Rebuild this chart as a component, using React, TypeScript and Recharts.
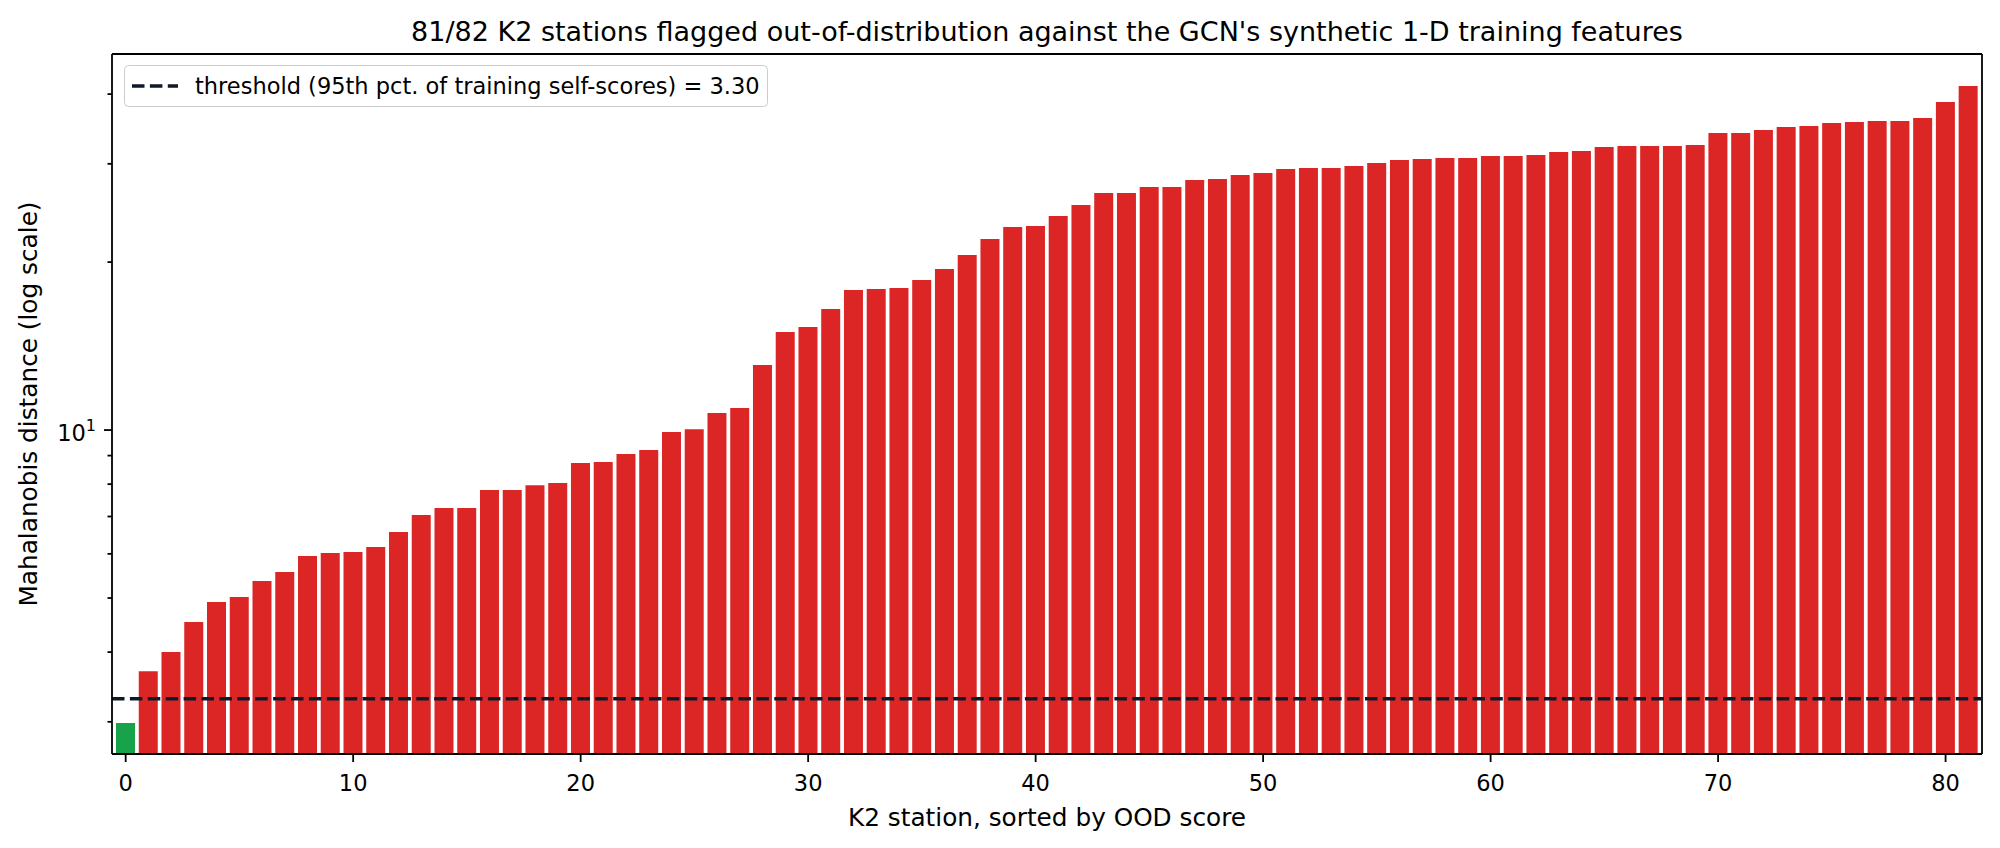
import React from 'react';
import { BarChart, Bar, Cell, XAxis, YAxis, ReferenceLine, Legend, CartesianGrid } from 'recharts';

// station rank (x) and Mahalanobis OOD score (y), sorted ascending
const stations = [
  0, 1, 2, 3, 4, 5, 6, 7, 8, 9, 10, 11, 12, 13, 14, 15, 16, 17, 18, 19, 20,
  21, 22, 23, 24, 25, 26, 27, 28, 29, 30, 31, 32, 33, 34, 35, 36, 37, 38, 39, 40,
  41, 42, 43, 44, 45, 46, 47, 48, 49, 50, 51, 52, 53, 54, 55, 56, 57, 58, 59, 60,
  61, 62, 63, 64, 65, 66, 67, 68, 69, 70, 71, 72, 73, 74, 75, 76, 77, 78, 79, 80, 81,
];
const oodScores = [
  2.985, 3.698, 4.0, 4.528, 4.918, 5.019, 5.362, 5.566, 5.946, 6.021,
  6.045, 6.17, 6.565, 7.04, 7.25, 7.25, 7.805, 7.805, 7.967, 8.035,
  8.727, 8.765, 9.057, 9.21, 9.92, 10.03, 10.73, 10.95, 13.08, 14.98,
  15.3, 16.48, 17.82, 17.89, 17.97, 18.57, 19.44, 20.59, 22.0, 23.11,
  23.21, 24.19, 25.31, 26.6, 26.6, 27.26, 27.26, 28.06, 28.18, 28.65,
  28.89, 29.37, 29.49, 29.49, 29.74, 30.1, 30.48, 30.6, 30.73, 30.73,
  30.98, 30.98, 31.11, 31.5, 31.63, 32.16, 32.29, 32.29, 32.29, 32.42,
  34.07, 34.07, 34.5, 34.93, 35.07, 35.51, 35.66, 35.8, 35.8, 36.25,
  38.72, 41.37,
];
const THRESHOLD = 3.3;
const yDomain = [2.627, 47.2];
const yTicks = [3, 4, 5, 6, 7, 8, 9, 10, 20, 30, 40];
const yMajorTicks = [10];

const TITLE =
  "81/82 K2 stations flagged out-of-distribution against the GCN's synthetic 1-D training features";
const X_LABEL = 'K2 station, sorted by OOD score';
const Y_LABEL = 'Mahalanobis distance (log scale)';
const LEGEND_LABEL = 'threshold (95th pct. of training self-scores) = 3.30';

const RED = '#dc2626';
const GREEN = '#16a34a';
const INK = '#111827';
const FONT = '"DejaVu Sans", sans-serif';

const data = stations.map((station, i) => ({ station, score: oodScores[i] }));

function LogTick(props: any) {
  const { x, y, payload } = props;
  const major = yMajorTicks.includes(payload.value);
  const len = major ? 8 : 4.5;
  return (
    <g>
      <line x1={x - len} x2={x} y1={y} y2={y} stroke="#000" strokeWidth={1.8} />
      {major && (
        <text x={x - 16} y={y + 10.7} textAnchor="end" fontSize={22.5} fontFamily={FONT} fill="#000">
          10
          <tspan fontSize={16} dy={-10}>
            {Math.round(Math.log10(payload.value))}
          </tspan>
        </text>
      )}
    </g>
  );
}

function ThresholdLegend() {
  return (
    <div
      style={{
        boxSizing: 'border-box',
        width: 644,
        height: 42,
        border: '1.8px solid #cccccc',
        borderRadius: 4.5,
        background: 'rgba(255,255,255,0.8)',
        display: 'flex',
        alignItems: 'center',
        paddingLeft: 7,
        fontFamily: FONT,
        fontSize: 22.5,
        color: '#000',
        whiteSpace: 'nowrap',
      }}
    >
      <svg width={46} height={8} style={{ flex: 'none' }}>
        <line x1={0} x2={46} y1={4} y2={4} stroke={INK} strokeWidth={3.4} strokeDasharray="12.5 5.4" />
      </svg>
      <span style={{ marginLeft: 17, lineHeight: 1 }}>{LEGEND_LABEL}</span>
    </div>
  );
}

export default function App() {
  const axisLine = { stroke: '#000', strokeWidth: 1.8 };
  return (
    <div style={{ position: 'absolute', left: 0, top: 0, width: 2000, height: 848, background: '#fff', fontFamily: FONT }}>
      <svg width={2000} height={54} style={{ position: 'absolute', left: 0, top: 0 }}>
        <text x={1047} y={40.5} textAnchor="middle" fontSize={27} fontFamily={FONT} fill="#000">
          {TITLE}
        </text>
      </svg>
      <BarChart
        width={2000}
        height={848}
        data={data}
        margin={{ top: 54, right: 18, bottom: 34, left: 0 }}
        barCategoryGap="7.5%"
      >
        {/* top and right spines of the matplotlib-style frame */}
        <CartesianGrid
          stroke="#000"
          strokeWidth={1.8}
          horizontalCoordinatesGenerator={({ offset }: any) => [offset.top]}
          verticalCoordinatesGenerator={({ offset }: any) => [offset.left + offset.width]}
        />
        <XAxis
          dataKey="station"
          type="category"
          interval={9}
          height={60}
          padding={{ left: 2.3, right: 2.3 }}
          axisLine={axisLine}
          tickLine={axisLine}
          tickSize={8}
          tickMargin={13.5}
          tick={{ fill: '#000', fontSize: 22.5, fontFamily: FONT }}
          label={(p: any) => {
            const vb = p.viewBox;
            return (
              <text x={vb.x + vb.width / 2} y={vb.y + 72} textAnchor="middle" fontSize={24.75} fontFamily={FONT} fill="#000">
                {X_LABEL}
              </text>
            );
          }}
        />
        <YAxis
          scale="log"
          type="number"
          domain={yDomain}
          allowDataOverflow
          ticks={yTicks}
          interval={0}
          width={112}
          axisLine={axisLine}
          tickLine={false}
          tickSize={0}
          tickMargin={0}
          tick={<LogTick />}
          label={(p: any) => {
            const vb = p.viewBox;
            const cx = vb.x + 37;
            const cy = vb.y + vb.height / 2;
            return (
              <text x={cx} y={cy} transform={`rotate(-90, ${cx}, ${cy})`} textAnchor="middle" fontSize={24.75} fontFamily={FONT} fill="#000">
                {Y_LABEL}
              </text>
            );
          }}
        />
        <Legend
          layout="horizontal"
          verticalAlign="middle"
          align="center"
          content={() => <ThresholdLegend />}
          wrapperStyle={{ left: 124, top: 65, width: 644, height: 42 }}
        />
        <Bar dataKey="score" isAnimationActive={false}>
          {data.map((d) => (
            <Cell key={d.station} fill={d.score < THRESHOLD ? GREEN : RED} />
          ))}
        </Bar>
        <ReferenceLine y={THRESHOLD} stroke={INK} strokeWidth={3.4} strokeDasharray="12.5 5.4" />
      </BarChart>
    </div>
  );
}
